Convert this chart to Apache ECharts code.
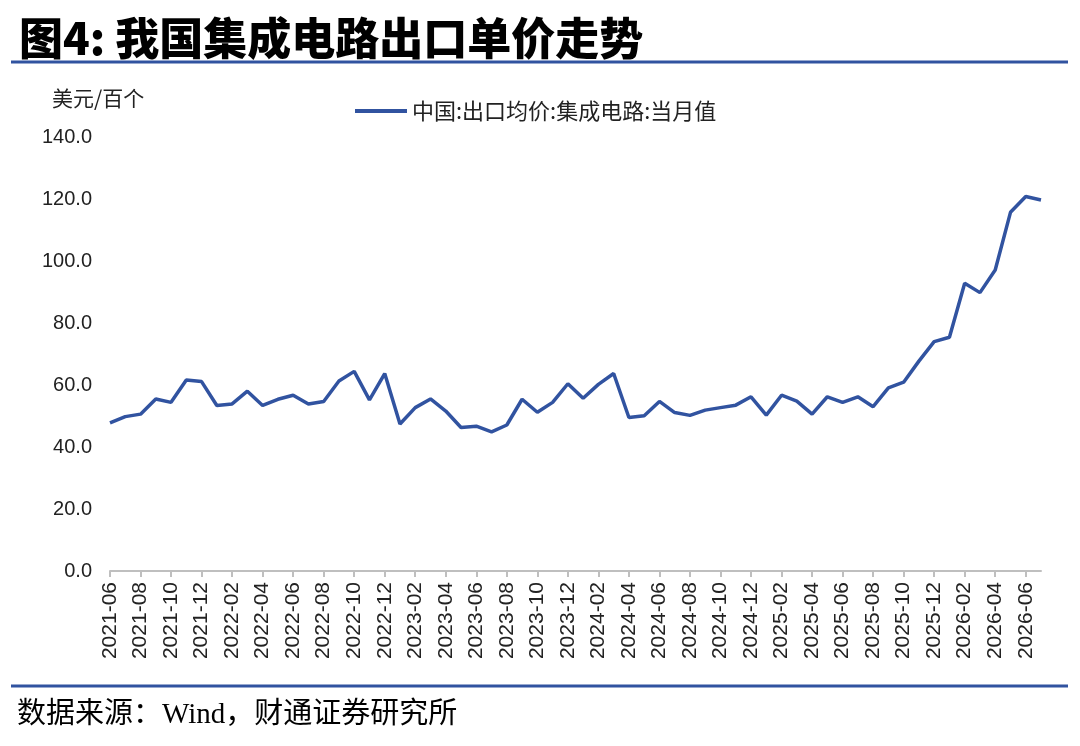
<!DOCTYPE html>
<html>
<head>
<meta charset="utf-8">
<script src="https://cdn.jsdelivr.net/npm/echarts@6/dist/echarts.min.js"></script>
<style>
html,body{margin:0;padding:0;background:#fff;}
#chart{width:1080px;height:746px;}
</style>
</head>
<body>
<div id="chart"></div>
<script>
// Categories: monthly 2021-06 .. 2026-07
var categories = [
  "2021-06","2021-07","2021-08","2021-09","2021-10","2021-11","2021-12",
  "2022-01","2022-02","2022-03","2022-04","2022-05","2022-06","2022-07","2022-08","2022-09","2022-10","2022-11","2022-12",
  "2023-01","2023-02","2023-03","2023-04","2023-05","2023-06","2023-07","2023-08","2023-09","2023-10","2023-11","2023-12",
  "2024-01","2024-02","2024-03","2024-04","2024-05","2024-06","2024-07","2024-08","2024-09","2024-10","2024-11","2024-12",
  "2025-01","2025-02","2025-03","2025-04","2025-05","2025-06","2025-07","2025-08","2025-09","2025-10","2025-11","2025-12",
  "2026-01","2026-02","2026-03","2026-04","2026-05","2026-06","2026-07"
];
// 中国:出口均价:集成电路:当月值 (美元/百个)
var priceValues = [
  47.8, 49.8, 50.6, 55.5, 54.4, 61.6, 61.1,
  53.4, 53.9, 58.0, 53.4, 55.4, 56.7, 53.9, 54.7, 61.3, 64.4, 55.2, 63.7,
  47.4, 52.7, 55.5, 51.6, 46.3, 46.7, 44.9, 47.1, 55.4, 51.2, 54.4, 60.4,
  55.7, 60.2, 63.7, 49.5, 50.1, 54.7, 51.1, 50.2, 51.9, 52.7, 53.5, 56.2,
  50.3, 56.7, 54.8, 50.6, 56.2, 54.4, 56.2, 53.0, 59.1, 60.9, 67.7, 74.0,
  75.4, 92.8, 89.8, 97.1, 115.7, 120.8, 119.7
];
var seriesName = "中国:出口均价:集成电路:当月值";
var yTicks = {min: 0, max: 140, interval: 20};
var titleText = "图4: 我国集成电路出口单价走势";
var unitText = "美元/百个";
var sourceText = "数据来源：Wind，财通证券研究所";

var chart = echarts.init(document.getElementById('chart'));
var blue = '#3153A0';
var option = {
  backgroundColor: '#fff',
  animation: false,
  title: {
    text: titleText,
    left: 14, top: 11,
    textStyle: {fontFamily: '"Noto Sans CJK SC"', fontWeight: 900, fontSize: 44, color: '#000'}
  },
  legend: {
    data: [seriesName],
    left: 350, top: 95,
    itemWidth: 52, itemHeight: 4, itemGap: 8,
    icon: 'rect',
    textStyle: {fontFamily: '"Noto Sans CJK SC"', fontSize: 22, color: '#222'}
  },
  grid: {left: 110, right: 39, top: 137, bottom: 175},
  xAxis: {
    type: 'category',
    data: categories,
    boundaryGap: false,
    axisLine: {lineStyle: {color: '#bfbfbf', width: 2}},
    axisTick: {interval: 1, length: 6, lineStyle: {color: '#bfbfbf', width: 2}},
    axisLabel: {interval: 1, rotate: 90, margin: 11, fontFamily: 'Arial, "Liberation Sans"', fontSize: 21, color: '#222'}
  },
  yAxis: {
    type: 'value',
    min: yTicks.min, max: yTicks.max, interval: yTicks.interval,
    axisLine: {show: false},
    axisTick: {show: false},
    splitLine: {show: false},
    axisLabel: {margin: 18, fontFamily: 'Arial, "Liberation Sans"', fontSize: 20, color: '#222',
      formatter: function (v) { return v.toFixed(1); }}
  },
  series: [{
    name: seriesName,
    type: 'line',
    data: priceValues,
    symbol: 'none',
    lineStyle: {color: blue, width: 3.5},
    itemStyle: {color: blue}
  }],
  graphic: [
    {type: 'line', shape: {x1: 11, y1: 62, x2: 1068, y2: 62}, style: {stroke: blue, lineWidth: 3}},
    {type: 'line', shape: {x1: 11, y1: 686, x2: 1068, y2: 686}, style: {stroke: blue, lineWidth: 3}},
    {type: 'text', left: 52, top: 88, style: {text: unitText, font: '21px "Noto Sans CJK SC"', fill: '#222'}},
    {type: 'text', left: 17, top: 701, style: {text: sourceText, font: '29px "Liberation Serif", "Noto Sans CJK SC"', fill: '#000'}}
  ]
};
chart.setOption(option);
</script>
</body>
</html>
